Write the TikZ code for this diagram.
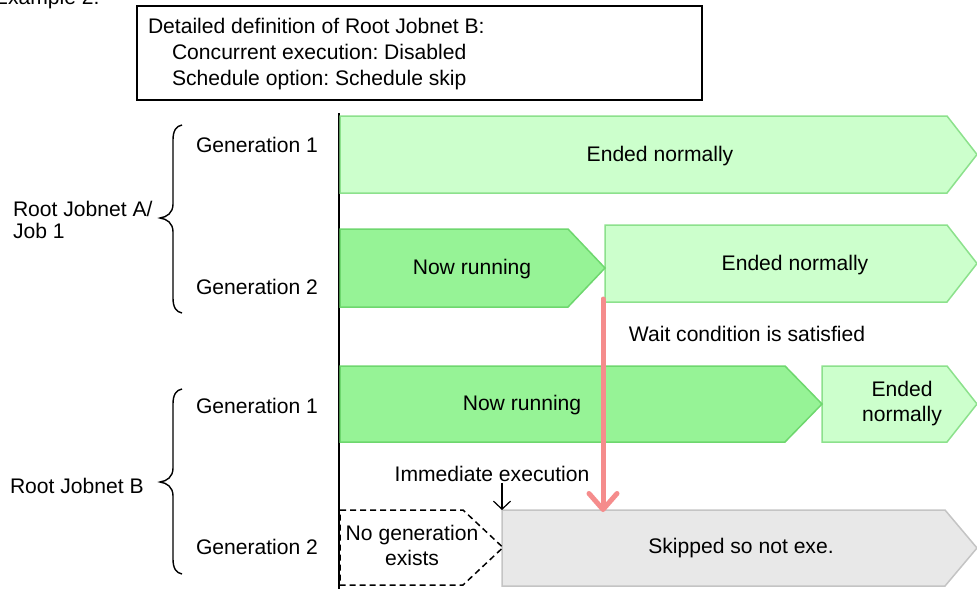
\documentclass[tikz,border=0pt]{standalone}
\usepackage{fontspec}
\setmainfont{Liberation Sans}
\usetikzlibrary{arrows.meta,calc}
\frenchspacing
\definecolor{lgfill}{RGB}{204,255,204}
\definecolor{lgdraw}{RGB}{140,225,140}
\definecolor{dgfill}{RGB}{150,243,150}
\definecolor{dgdraw}{RGB}{110,215,110}
\definecolor{gyfill}{RGB}{232,232,232}
\definecolor{gydraw}{RGB}{196,196,196}
\definecolor{redarr}{RGB}{245,140,140}
% #1 style, #2 name, #3 left, #4 shoulder, #5 tip, #6 top, #7 bottom
\newcommand\jobshape[7]{%
  \path[#1] (#3,#6) -- (#4,#6) -- (#5,{(#6+#7)/2}) -- (#4,#7) -- (#3,#7) -- cycle;
  \node[minimum width={#5-#3}, minimum height={#7-#6}] (#2) at ({(#3+#5)/2},{(#6+#7)/2}) {};}
\begin{document}
\begin{tikzpicture}[x=1pt,y=-1pt,
  every node/.style={inner sep=0pt, outer sep=0pt},
  txt/.style={font=\fontsize{21.1}{25}\selectfont\frenchspacing, anchor=base, align=center},
  ltxt/.style={font=\fontsize{21.1}{25}\selectfont\frenchspacing, anchor=base west, align=left},
  lgshape/.style={fill=lgfill, draw=lgdraw, line width=1.5pt},
  dgshape/.style={fill=dgfill, draw=dgdraw, line width=1.5pt},
  gyshape/.style={fill=gyfill, draw=gydraw, line width=1.5pt},
  noneshape/.style={draw=black, dash pattern=on 6pt off 4pt, line width=1.5pt},
  bracestyle/.style={draw=black, line width=1.4pt},
  axisline/.style={draw=black, line width=1.7pt},
  redarrow/.style={draw=redarr, line width=5pt, line cap=round,
    -{Straight Barb[length=16pt, width=28pt, round]}},
  smallarrow/.style={draw=black, line width=1.2pt,
    -{Straight Barb[length=8pt, width=17pt]}}]
\useasboundingbox (0,0) rectangle (977,589);

% heading (clipped at the top)
\node[ltxt] (example) at (-6,5) {Example 2:};

% definition box
\node[draw=black, line width=1.5pt, minimum width=565pt, minimum height=94pt] (defbox) at (419.5,53) {};
\node[ltxt] (def1) at (148,33.3) {Detailed definition of Root Jobnet B:};
\node[ltxt] (def2) at (172,59.3) {Concurrent execution: Disabled};
\node[ltxt] (def3) at (172,85) {Schedule option: Schedule skip};

% time axis
\coordinate (axtop) at (339,113);
\coordinate (axbot) at (339,589);
\draw[axisline] (axtop) -- (axbot);

% left labels
\node[ltxt, font=\fontsize{21.1}{21.6}\selectfont] (rja) at (13,238.3) {Root Jobnet A/\\Job 1};
\node[ltxt] (rjb) at (10,493.3) {Root Jobnet B};
\node[txt] (ga1) at (257,152) {Generation 1};
\node[txt] (ga2) at (257,294) {Generation 2};
\node[txt] (gb1) at (257,413.3) {Generation 1};
\node[txt] (gb2) at (257,554) {Generation 2};

\draw[bracestyle] (182,125) .. controls (176,126) and (173,131) .. (173,140) -- (173,204)
  .. controls (173,213) and (167,217) .. (160,218) .. controls (167,219) and (173,223) .. (173,232)
  -- (173,298) .. controls (173,307) and (176,312) .. (182,313);
\draw[bracestyle] (182,389) .. controls (176,390) and (173,395) .. (173,404) -- (173,468)
  .. controls (173,477) and (167,481) .. (160,482) .. controls (167,483) and (173,487) .. (173,496)
  -- (173,559) .. controls (173,568) and (176,573) .. (182,574);

% Root Jobnet A / Job 1
\jobshape{lgshape}{a1end}{340}{947}{977}{116}{193}
\node[txt] (a1endt) at (660,161) {Ended normally};
\jobshape{lgshape}{a2end}{605}{947}{977}{225}{302}
\node[txt] (a2endt) at (795,270) {Ended normally};
\jobshape{dgshape}{a2run}{340}{568}{605}{229}{307}
\node[txt] (a2runt) at (472,274) {Now running};

% Root Jobnet B
\jobshape{lgshape}{b1end}{822}{947}{977}{366}{442}
\node[txt] (b1endt) at (902,421.7) {Ended\\normally};
\jobshape{dgshape}{b1run}{340}{785}{822}{366}{442}
\node[txt] (b1runt) at (522,410) {Now running};
\jobshape{gyshape}{b2skip}{502}{945}{977}{510}{586}
\node[txt] (b2skipt) at (741,553.3) {Skipped so not exe.};
\jobshape{noneshape}{b2none}{340}{463}{503}{510}{585}
\node[txt, font=\fontsize{21.1}{24.3}\selectfont] (b2nonet) at (412,565) {No generation\\exists};

% annotations and connectors
\node[txt] (waitt) at (747,341.7) {Wait condition is satisfied};
\node[txt] (immt) at (492,481.7) {Immediate execution};
\coordinate (redx) at (603,0);
\draw[redarrow] ($(redx |- a2end.south)+(0,-3)$) -- ($(redx |- b2skip.north)+(0,2)$);
\draw[smallarrow] ($(immt.south -| b2skip.north west)+(0,1)$) -- (b2skip.north west);
\end{tikzpicture}
\end{document}
